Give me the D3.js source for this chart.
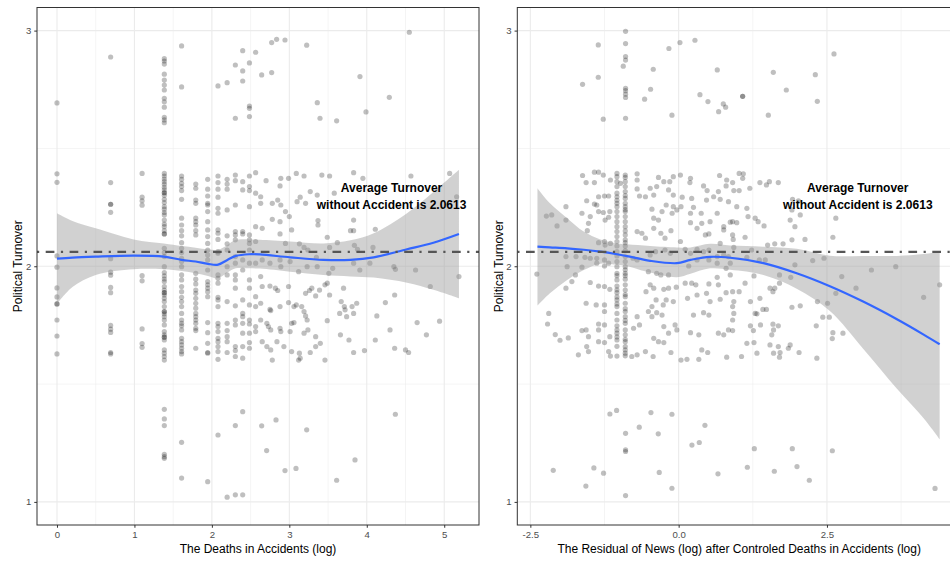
<!DOCTYPE html>
<html>
<head>
<meta charset="utf-8">
<script src="https://cdn.jsdelivr.net/npm/d3@7"></script>
<style>
  body { margin: 0; background: #fff; }
  svg { display: block; }
  text { font-family: "Liberation Sans", Arial, Helvetica, sans-serif; }
</style>
</head>
<body>
<svg id="chart" width="950" height="561"></svg>
<script>
// ---------- data ----------
const avgTurnover = 2.0613;
const yTicks = [1, 2, 3];
const yMinor = [1.5, 2.5];

// Left panel: log deaths. Small death counts sit on discrete columns.
const deathColX = [0, 0.693, 1.099, 1.386, 1.609, 1.792, 1.946, 2.079, 2.197, 2.303, 2.398, 2.485, 2.565];
const deathColY = [
  [2.693, 2.392, 2.356, 2.044, 1.996, 1.908, 1.870, 1.840, 1.840, 1.772, 1.704, 1.628],
  [2.888, 2.355, 2.263, 2.263, 2.229, 2.032, 1.975, 1.962, 1.910, 1.888, 1.749, 1.733, 1.719, 1.634, 1.628],
  [2.394, 2.293, 2.278, 2.259, 1.960, 1.938, 1.734, 1.672, 1.656],
  [2.881, 2.871, 2.858, 2.815, 2.790, 2.769, 2.748, 2.713, 2.698, 2.675, 2.632, 2.621, 2.609,
   2.394, 2.383, 2.370, 2.359, 2.348, 2.335, 2.324, 2.312, 2.312, 2.301, 2.284, 2.270, 2.253, 2.242, 2.228, 2.218,
   2.196, 2.179, 2.168, 2.151, 2.137, 2.137, 2.076, 2.058, 2.041, 1.998, 1.973, 1.959, 1.946, 1.935, 1.914,
   1.899, 1.888, 1.888, 1.878, 1.864, 1.850, 1.829, 1.808, 1.808, 1.798, 1.786, 1.772, 1.751, 1.723, 1.709,
   1.699, 1.699, 1.687, 1.645, 1.631, 1.617, 1.602,
   1.393, 1.352, 1.324, 1.202, 1.192, 1.185],
  [2.935, 2.761, 2.383, 2.369, 2.352, 2.338, 2.321, 2.284, 2.204, 2.175, 2.151, 2.129, 2.100, 2.076, 2.058,
   2.034, 2.020, 1.998, 1.963, 1.942, 1.914, 1.892, 1.868, 1.850, 1.829, 1.800, 1.772, 1.758, 1.747, 1.730,
   1.694, 1.680, 1.666, 1.652, 1.638, 1.628, 1.253, 1.101],
  [2.349, 2.331, 2.281, 2.267, 2.204, 2.189, 2.175, 2.151, 2.133, 1.970, 1.945, 1.925, 1.899, 1.885, 1.864,
   1.843, 1.822, 1.800, 1.786, 1.772, 1.758, 1.737, 1.727, 1.652],
  [2.369, 2.327, 2.298, 2.267, 2.260, 2.232, 2.189, 2.154, 2.126, 2.097, 2.069, 2.048, 2.027, 1.984, 1.935,
   1.921, 1.907, 1.892, 1.871, 1.761, 1.718, 1.673, 1.634, 1.631, 1.086],
  [2.765, 2.383, 2.355, 2.327, 2.293, 2.246, 2.225, 2.154, 2.140, 2.114, 2.062, 2.055, 1.963, 1.949, 1.928,
   1.868, 1.857, 1.829, 1.758, 1.744, 1.723, 1.694, 1.680, 1.659, 1.638, 1.605, 1.284],
  [2.779, 2.369, 2.349, 2.327, 2.239, 2.129, 2.095, 2.069, 1.998, 1.963, 1.850, 1.758, 1.727, 1.701, 1.680,
   1.634, 1.020],
  [2.854, 2.628, 2.387, 2.363, 2.260, 2.147, 2.133, 2.112, 2.041, 2.013, 1.963, 1.942, 1.907, 1.832, 1.772,
   1.751, 1.659, 1.642, 1.617, 1.324, 1.030],
  [2.915, 2.829, 2.786, 2.359, 2.324, 2.147, 2.137, 2.027, 1.984, 1.857, 1.800, 1.786, 1.758, 1.716, 1.659,
   1.610, 1.383, 1.030],
  [2.863, 2.680, 2.670, 2.635, 2.383, 2.338, 2.321, 2.253, 2.133, 2.112, 2.097, 2.069, 2.013, 1.942, 1.907,
   1.836, 1.772, 1.755, 1.716, 1.676, 1.652],
  [2.908, 2.397, 2.310, 2.168, 2.105, 2.013, 1.871, 1.829, 1.744, 1.723]
];

// Larger death counts, spread along the axis
const deathScatter = [
  [2.643, 2.812], [2.772, 2.949], [2.772, 2.822], [2.836, 2.963], [2.944, 2.960], [3.224, 2.938],
  [3.361, 2.694], [3.396, 2.628], [3.611, 2.617], [3.912, 2.805], [3.990, 2.655], [4.291, 2.717], [4.549, 2.993],
  [2.70, 2.363], [2.89, 2.373], [2.88, 2.341], [2.99, 2.373], [3.09, 2.394], [3.19, 2.383], [3.27, 2.317],
  [3.36, 2.302], [3.42, 2.387], [3.52, 2.383], [3.83, 2.397], [3.95, 2.373], [4.57, 2.383], [5.07, 2.394],
  [2.63, 2.295], [2.63, 2.267], [2.78, 2.267], [2.85, 2.281], [2.89, 2.260], [2.95, 2.232], [3.00, 2.211],
  [3.10, 2.274], [3.14, 2.293], [3.21, 2.267], [3.37, 2.194], [3.37, 2.175], [3.58, 2.310], [3.79, 2.151],
  [3.83, 2.151], [3.83, 2.196], [4.11, 2.157], [5.16, 2.295],
  [2.65, 2.161], [2.78, 2.199], [2.88, 2.189], [2.88, 2.137], [2.95, 2.097], [3.03, 2.154], [3.13, 2.095],
  [3.19, 2.080], [3.24, 2.069], [3.35, 2.038], [3.49, 2.123], [3.52, 2.080], [3.62, 2.100], [3.84, 2.089],
  [3.88, 2.072], [4.08, 2.080], [4.35, 1.998], [4.37, 1.987], [4.63, 1.984],
  [2.65, 2.027], [2.75, 2.013], [2.88, 2.027], [2.89, 1.998], [3.01, 2.020], [3.12, 1.977], [3.23, 1.998],
  [3.36, 1.998], [3.51, 1.970], [3.56, 1.991], [3.83, 2.013], [3.91, 1.984], [4.04, 2.013], [5.19, 1.956],
  [2.63, 1.956], [2.65, 1.914], [2.75, 1.916], [2.82, 1.907], [2.85, 1.897], [2.99, 1.914], [3.09, 1.836],
  [3.16, 1.829], [3.21, 1.885], [3.26, 1.897], [3.29, 1.907], [3.34, 1.874], [3.39, 1.899], [3.46, 1.921],
  [3.49, 1.928], [3.52, 1.878], [3.70, 1.907], [3.67, 1.850], [3.71, 1.829], [3.72, 1.815], [3.81, 1.829],
  [3.87, 1.843], [4.24, 1.846], [4.36, 1.878], [4.82, 1.914],
  [2.63, 1.843], [2.75, 1.817], [2.76, 1.812], [2.88, 1.829], [2.99, 1.846], [3.06, 1.829], [3.19, 1.808],
  [3.21, 1.789], [3.23, 1.772], [3.49, 1.769], [3.65, 1.800], [3.74, 1.786], [3.83, 1.800], [4.13, 1.789],
  [4.65, 1.761], [4.94, 1.767],
  [2.63, 1.772], [2.71, 1.758], [2.73, 1.744], [2.76, 1.730], [2.88, 1.737], [2.89, 1.723], [3.01, 1.723],
  [3.03, 1.758], [3.06, 1.761], [3.19, 1.716], [3.24, 1.730], [3.34, 1.701], [3.40, 1.673], [3.66, 1.709],
  [3.77, 1.687], [4.11, 1.687], [4.30, 1.730], [4.77, 1.709],
  [2.65, 1.680], [2.71, 1.659], [2.76, 1.645], [2.84, 1.680], [2.93, 1.659], [3.03, 1.638], [3.13, 1.631],
  [3.14, 1.610], [3.27, 1.634], [3.34, 1.659], [3.46, 1.602], [3.83, 1.634], [3.97, 1.642], [4.36, 1.652],
  [4.50, 1.645], [4.54, 1.634], [2.78, 1.602], [3.12, 1.602],
  [2.643, 1.323], [2.828, 1.348], [2.707, 1.218], [2.944, 1.133], [3.086, 1.142], [3.224, 1.306],
  [3.848, 1.178], [3.611, 1.092], [4.369, 1.372]
];

// Left smoother (loess) with confidence band
const deathFitX    = [0, 0.2, 0.5, 0.99, 1.38, 1.61, 1.79, 1.95, 2.08, 2.2, 2.31, 2.48, 2.62, 3.01, 3.44, 3.79, 4.09, 4.52, 4.86, 5.19];
const deathFitY    = [2.032, 2.037, 2.041, 2.045, 2.041, 2.027, 2.020, 2.010, 2.007, 2.027, 2.044, 2.051, 2.050, 2.038, 2.027, 2.027, 2.038, 2.072, 2.100, 2.137];
const deathFitLow  = [1.840, 1.912, 1.963, 1.987, 1.987, 1.980, 1.970, 1.959, 1.949, 1.973, 1.991, 1.991, 1.990, 1.977, 1.963, 1.957, 1.952, 1.930, 1.900, 1.864];
const deathFitHigh = [2.225, 2.192, 2.161, 2.114, 2.097, 2.086, 2.079, 2.072, 2.069, 2.090, 2.112, 2.114, 2.112, 2.105, 2.097, 2.110, 2.140, 2.225, 2.315, 2.409];

// Right panel: residual of news coverage
const residualPoints = [
  // upper group
  [-0.895, 2.997], [-1.355, 2.939], [-0.895, 2.945], [0.022, 2.949], [0.275, 2.959], [-0.164, 2.924],
  [-0.895, 2.890], [-0.895, 2.875], [-0.934, 2.849], [-0.428, 2.836], [0.651, 2.833], [-1.355, 2.802],
  [-1.620, 2.772], [-0.895, 2.755], [-0.895, 2.745], [-0.895, 2.730], [-0.895, 2.716], [-0.473, 2.751],
  [-0.574, 2.709], [0.359, 2.728], [0.494, 2.699], [-0.113, 2.641], [-1.271, 2.624], [-0.895, 2.628],
  [0.674, 2.656], [1.596, 2.823], [2.304, 2.813], [2.619, 2.901], [1.815, 2.748], [1.079, 2.721],
  [1.079, 2.721], [0.753, 2.689], [0.792, 2.675], [2.338, 2.700], [1.512, 2.641],
  // lower group
  [-1.159, 1.373], [-1.046, 1.388], [-0.467, 1.379], [-0.113, 1.372], [-0.664, 1.317], [-0.895, 1.291],
  [-0.895, 1.221], [-0.895, 1.214], [-0.344, 1.289], [0.224, 1.241], [0.348, 1.252], [0.443, 1.325],
  [-2.114, 1.134], [-1.429, 1.144], [-1.266, 1.122], [-1.564, 1.067], [-0.327, 1.125], [-0.113, 1.058],
  [-0.895, 1.027], [0.663, 1.119], [1.276, 1.226], [1.916, 1.226], [2.591, 1.217], [1.158, 1.147],
  [1.613, 1.130], [1.995, 1.150], [2.203, 1.092], [4.322, 1.057],
  // middle group
  [-1.62, 2.385], [-1.42, 2.399], [-1.35, 2.399], [-1.27, 2.387], [-1.15, 2.366], [-1.04, 2.394], [-1.04, 2.380],
  [-0.90, 2.387], [-0.90, 2.377], [-0.70, 2.392], [-0.70, 2.366], [-0.34, 2.377], [-0.25, 2.359], [-0.15, 2.359],
  [-0.09, 2.380], [0.03, 2.387], [0.20, 2.373], [0.19, 2.355], [0.69, 2.385], [0.81, 2.366],
  [-1.56, 2.355], [-1.42, 2.355], [-1.04, 2.359], [-1.04, 2.338], [-0.98, 2.352], [-0.90, 2.359], [-0.90, 2.338],
  [-0.90, 2.317], [-0.70, 2.328], [-0.66, 2.298], [-0.48, 2.331], [-0.42, 2.302], [-0.37, 2.338], [-0.17, 2.324],
  [-0.09, 2.302], [0.06, 2.293], [0.22, 2.288], [0.42, 2.341], [0.48, 2.321], [0.59, 2.295], [0.67, 2.317],
  [0.80, 2.341], [0.84, 2.274], [-1.25, 2.298], [-1.18, 2.298], [-1.35, 2.295], [-1.55, 2.278], [-1.42, 2.264],
  [-1.38, 2.260], [-1.04, 2.295], [-0.90, 2.288], [-0.56, 2.295], [-0.21, 2.260], [-0.09, 2.253], [0.04, 2.253],
  [0.47, 2.281], [0.70, 2.284],
  [-1.90, 2.253], [-1.63, 2.225], [-1.49, 2.211], [-1.35, 2.232], [-1.27, 2.228], [-1.16, 2.232], [-1.04, 2.267],
  [-1.04, 2.253], [-1.04, 2.232], [-1.04, 2.211], [-1.04, 2.189], [-0.90, 2.267], [-0.90, 2.253], [-0.90, 2.232],
  [-0.90, 2.211], [-0.90, 2.189], [-0.45, 2.242], [-0.42, 2.204], [-0.34, 2.196], [-0.28, 2.232], [-0.11, 2.225],
  [-0.03, 2.239], [0.20, 2.225], [0.25, 2.250], [0.38, 2.225], [0.53, 2.189], [0.65, 2.225], [0.76, 2.154],
  [-1.24, 2.196], [-1.18, 2.208], [-1.52, 2.182], [-2.05, 2.171], [-2.23, 2.213], [-2.14, 2.218], [-1.90, 2.196],
  [-1.04, 2.168], [-0.90, 2.168], [-0.70, 2.147], [-0.62, 2.140], [-0.56, 2.119], [-0.42, 2.161], [-0.30, 2.140],
  [-0.23, 2.119], [-0.13, 2.151], [0.20, 2.185], [0.31, 2.161], [0.39, 2.182], [0.45, 2.133], [0.51, 2.137],
  [0.70, 2.097], [0.76, 2.168], [0.87, 2.187],
  [-1.54, 2.151], [-1.35, 2.100], [-1.25, 2.105], [-1.24, 2.090], [-1.15, 2.097], [-1.04, 2.147], [-1.04, 2.126],
  [-1.04, 2.105], [-1.04, 2.086], [-0.90, 2.133], [-0.90, 2.112], [-0.90, 2.086], [-0.90, 2.066], [-1.04, 2.062],
  [-1.90, 2.041], [-1.73, 2.041], [-1.58, 2.038], [-1.49, 2.034], [-1.38, 2.034], [-1.25, 2.027], [-1.04, 2.044],
  [-1.04, 2.020], [-0.90, 2.041], [-0.90, 2.020], [-0.77, 2.034], [-0.48, 2.048], [-0.39, 2.062], [-0.23, 2.069],
  [-0.14, 2.055], [0.03, 2.105], [0.11, 2.072], [0.20, 2.055], [0.31, 2.072], [0.42, 2.062], [0.51, 2.069],
  [0.65, 2.041], [0.76, 2.048], [0.84, 2.041], [-1.88, 1.998], [-1.63, 1.996], [-1.38, 2.013], [-1.25, 2.001],
  [-1.18, 2.013], [-1.04, 1.998], [-0.90, 1.998], [-0.70, 2.027], [0.17, 2.001], [0.31, 2.027], [0.51, 2.027],
  [0.65, 2.013], [0.80, 1.991], [0.87, 2.013], [-2.39, 1.967], [-1.74, 1.963], [-1.80, 1.935], [-1.90, 1.907],
  [-1.49, 1.931], [-1.35, 1.916], [-1.25, 1.914], [-1.16, 1.902], [-1.04, 1.970], [-1.04, 1.942], [-1.04, 1.916],
  [-1.04, 1.888], [-1.04, 1.857], [-0.90, 1.970], [-0.90, 1.945], [-0.90, 1.921], [-0.90, 1.899], [-0.90, 1.871],
  [-0.90, 1.843], [-0.51, 1.977], [-0.48, 1.921], [-0.42, 1.907], [-0.37, 1.970], [-0.30, 1.963], [-0.17, 1.963],
  [-0.25, 1.902], [-0.17, 1.907], [-0.04, 1.911], [0.11, 1.928], [0.22, 1.928], [0.29, 1.921], [0.51, 1.925],
  [0.65, 1.953], [0.67, 1.921], [0.87, 1.963], [-1.56, 1.843], [-1.39, 1.836], [-1.25, 1.836], [-1.04, 1.829],
  [-0.55, 1.892], [-0.45, 1.829], [-0.38, 1.857], [-0.26, 1.836], [-0.21, 1.857], [-0.09, 1.850], [0.15, 1.864],
  [0.31, 1.878], [0.47, 1.885], [0.53, 1.850], [0.70, 1.860], [0.80, 1.888], [-2.19, 1.800], [-2.21, 1.755],
  [-2.08, 1.710],
  [-2.00, 1.686], [-1.86, 1.696], [-1.63, 1.727], [-1.56, 1.730], [-1.52, 1.701], [-1.35, 1.755], [-1.35, 1.730],
  [-1.25, 1.751], [-1.25, 1.808], [-1.04, 1.800], [-1.04, 1.772], [-1.04, 1.747], [-1.04, 1.716], [-1.04, 1.687],
  [-0.90, 1.808], [-0.90, 1.786], [-0.90, 1.758], [-0.90, 1.730], [-0.90, 1.709], [-0.90, 1.680], [-0.90, 1.659],
  [-0.90, 1.631], [-0.76, 1.737], [-0.70, 1.786], [-0.66, 1.751], [-0.51, 1.808], [-0.45, 1.786], [-0.37, 1.803],
  [-0.28, 1.793], [-0.25, 1.744], [-0.06, 1.751], [-0.03, 1.730], [-0.17, 1.716], [-0.34, 1.680], [-0.42, 1.694],
  [-0.25, 1.676], [0.20, 1.718], [0.25, 1.793], [0.34, 1.709], [0.42, 1.803], [0.51, 1.793], [0.67, 1.716],
  [0.76, 1.709], [0.84, 1.730], [-1.55, 1.659], [-1.52, 1.638], [-1.69, 1.624], [-1.35, 1.680], [-1.25, 1.676],
  [-1.18, 1.638], [-1.15, 1.619], [-1.04, 1.619], [-0.79, 1.617], [-0.70, 1.624], [-0.56, 1.638], [-0.43, 1.617],
  [-0.13, 1.634], [0.04, 1.602], [0.14, 1.605], [0.34, 1.605], [0.39, 1.645], [0.49, 1.634], [0.81, 1.614],
  [-1.16, 1.701],
  // extra density along the two crowded columns
  [-0.90, 2.300], [-0.90, 2.240], [-0.90, 2.150], [-0.90, 1.985], [-0.90, 1.820], [-0.90, 1.770], [-0.90, 1.690],
  [-0.90, 1.645], [-0.90, 1.620], [-0.90, 2.100], [-0.90, 1.880], [-0.90, 1.960],
  [-1.04, 2.310], [-1.04, 2.280], [-1.04, 1.960], [-1.04, 1.900], [-1.04, 1.870], [-1.04, 1.840], [-1.04, 1.730],
  [-1.04, 1.700], [-1.04, 1.660],
  // right side of the middle group
  [0.91, 2.355], [1.02, 2.394], [1.08, 2.373], [1.09, 2.392], [0.93, 2.321], [1.02, 2.321], [1.20, 2.331],
  [1.37, 2.355], [1.48, 2.345], [1.53, 2.359], [1.68, 2.355], [0.98, 2.253], [1.15, 2.246], [1.29, 2.204],
  [1.34, 2.189], [1.44, 2.171], [1.17, 2.211], [0.91, 2.189], [0.98, 2.185], [0.91, 2.133], [1.12, 2.123],
  [0.92, 2.114], [0.93, 2.080], [1.23, 2.069], [1.15, 2.038], [1.36, 2.027], [1.46, 2.027], [1.50, 2.090],
  [1.62, 2.095], [1.76, 2.095], [1.91, 2.112], [2.13, 2.114], [1.88, 2.196], [1.92, 2.284], [2.02, 2.278],
  [1.91, 2.239], [2.05, 2.218], [1.96, 2.168], [2.26, 2.024], [2.45, 2.034], [2.60, 2.123], [2.65, 2.204],
  [1.27, 1.959], [1.12, 1.928], [0.91, 1.892], [1.02, 1.892], [0.93, 1.850], [0.91, 1.829], [0.93, 1.800],
  [0.91, 1.772], [1.21, 1.850], [1.37, 1.864], [1.42, 1.817], [1.48, 1.817], [1.29, 1.800], [1.32, 1.798],
  [1.54, 1.907], [1.62, 1.907], [1.70, 1.928], [1.59, 1.892], [1.70, 1.963], [1.89, 1.953], [1.96, 2.006],
  [2.05, 1.832], [1.91, 1.826], [2.34, 1.850], [2.51, 1.843], [2.65, 1.885], [2.75, 1.956], [2.99, 1.907],
  [3.25, 1.984], [3.66, 1.998], [4.40, 1.921], [4.13, 1.868], [1.21, 1.747], [1.26, 1.727], [1.38, 1.751],
  [1.59, 1.754], [1.68, 1.747], [1.60, 1.730], [1.57, 1.709], [2.43, 1.784], [2.54, 1.784], [2.32, 1.747],
  [2.60, 1.718], [2.77, 1.716], [2.59, 1.693], [0.91, 1.727], [1.15, 1.673], [1.27, 1.676], [1.54, 1.666],
  [1.68, 1.659], [1.88, 1.666], [1.85, 1.652], [1.71, 1.634], [1.60, 1.631], [1.32, 1.631], [1.06, 1.617],
  [2.03, 1.634], [2.33, 1.610], [1.70, 1.614]
];

// Right smoother (loess) with confidence band
const residFitX    = [-2.38, -2.17, -1.88, -1.6, -1.32, -1.04, -0.87, -0.48, -0.03, 0.2, 0.53, 0.87, 1.43, 1.99, 2.55, 3.11, 3.68, 4.13, 4.40];
const residFitY    = [2.083, 2.080, 2.076, 2.070, 2.062, 2.051, 2.043, 2.023, 2.013, 2.027, 2.040, 2.036, 2.013, 1.970, 1.915, 1.850, 1.775, 1.710, 1.669];
const residFitLow  = [1.833, 1.885, 1.942, 1.984, 2.011, 2.006, 2.000, 1.973, 1.953, 1.968, 1.991, 1.985, 1.963, 1.905, 1.810, 1.650, 1.480, 1.355, 1.266];
const residFitHigh = [2.331, 2.267, 2.204, 2.147, 2.114, 2.097, 2.093, 2.086, 2.080, 2.080, 2.095, 2.088, 2.083, 2.074, 2.045, 2.044, 2.044, 2.052, 2.062];

const leftXTicks = [0, 1, 2, 3, 4, 5];
const leftXMinor = [0.5, 1.5, 2.5, 3.5, 4.5];
const rightXTicks = [-2.5, 0, 2.5];
const rightXMinor = [-1.25, 1.25, 3.75];

// ---------- drawing ----------
const svg = d3.select("#chart");
svg.append("rect").attr("width", 950).attr("height", 561).attr("fill", "#fff");
const defs = svg.append("defs");

const panelTop = 7.5, panelBottom = 525;
const yScale = d3.scaleLinear().domain([0.902, 3.098]).range([panelBottom, panelTop]);

function zipFit(xs, ys, lo, hi) {
  return xs.map((x, i) => ({ x, y: ys[i], lo: lo[i], hi: hi[i] }));
}

function drawPanel(cfg) {
  const x = cfg.x;
  const [x0, x1] = x.range();
  const g = svg.append("g");

  defs.append("clipPath").attr("id", cfg.id)
    .append("rect").attr("x", x0).attr("y", panelTop)
    .attr("width", x1 - x0).attr("height", panelBottom - panelTop);

  const body = g.append("g").attr("clip-path", `url(#${cfg.id})`);

  // grid
  const grid = body.append("g");
  grid.selectAll(".vmin").data(cfg.xMinor).join("line")
    .attr("x1", d => x(d)).attr("x2", d => x(d)).attr("y1", panelTop).attr("y2", panelBottom)
    .attr("stroke", "#ebebeb").attr("stroke-width", 0.55);
  grid.selectAll(".hmin").data(yMinor).join("line")
    .attr("x1", x0).attr("x2", x1).attr("y1", d => yScale(d)).attr("y2", d => yScale(d))
    .attr("stroke", "#ebebeb").attr("stroke-width", 0.55);
  grid.selectAll(".vmaj").data(cfg.xTicks).join("line")
    .attr("x1", d => x(d)).attr("x2", d => x(d)).attr("y1", panelTop).attr("y2", panelBottom)
    .attr("stroke", "#ebebeb").attr("stroke-width", 1.1);
  grid.selectAll(".hmaj").data(yTicks).join("line")
    .attr("x1", x0).attr("x2", x1).attr("y1", d => yScale(d)).attr("y2", d => yScale(d))
    .attr("stroke", "#ebebeb").attr("stroke-width", 1.1);

  // points
  body.append("g").selectAll("circle").data(cfg.points).join("circle")
    .attr("cx", d => x(d[0])).attr("cy", d => yScale(d[1])).attr("r", 2.6)
    .attr("fill", "#000").attr("fill-opacity", 0.25);

  // confidence band + smoother
  const area = d3.area().x(d => x(d.x)).y0(d => yScale(d.lo)).y1(d => yScale(d.hi))
    .curve(d3.curveCatmullRom);
  body.append("path").datum(cfg.fit).attr("d", area)
    .attr("fill", "#999").attr("fill-opacity", 0.45);
  const line = d3.line().x(d => x(d.x)).y(d => yScale(d.y)).curve(d3.curveCatmullRom);
  body.append("path").datum(cfg.fit).attr("d", line)
    .attr("fill", "none").attr("stroke", "#3366FF").attr("stroke-width", 2.2);

  // reference line for the no-accident average
  body.append("line")
    .attr("x1", x0).attr("x2", x1)
    .attr("y1", yScale(avgTurnover)).attr("y2", yScale(avgTurnover))
    .attr("stroke", "#555").attr("stroke-width", 2.3)
    .attr("stroke-dasharray", "2.2,6.5,8.7,6.5");

  // annotation
  const ax = x(cfg.noteX), ay = yScale(cfg.noteY);
  const note = g.append("text").attr("text-anchor", "middle")
    .attr("font-size", 12).attr("font-weight", "bold").attr("fill", "#000");
  note.append("tspan").attr("x", ax).attr("y", ay - 4).text("Average Turnover");
  note.append("tspan").attr("x", ax).attr("y", ay + 13.4)
    .text("without Accident is " + avgTurnover.toFixed(4));

  // panel border
  g.append("rect").attr("x", x0).attr("y", panelTop)
    .attr("width", x1 - x0).attr("height", panelBottom - panelTop)
    .attr("fill", "none").attr("stroke", "#333").attr("stroke-width", 1);

  // axes
  const xAxis = g.append("g").attr("transform", `translate(0,${panelBottom})`)
    .call(d3.axisBottom(x).tickValues(cfg.xTicks).tickFormat(cfg.fmt).tickSize(2.75).tickPadding(3.6));
  const yAxis = g.append("g").attr("transform", `translate(${x0},0)`)
    .call(d3.axisLeft(yScale).tickValues(yTicks).tickFormat(d3.format("d")).tickSize(2.75).tickPadding(3));
  [xAxis, yAxis].forEach(a => {
    a.select(".domain").remove();
    a.selectAll(".tick line").attr("stroke", "#333");
    a.selectAll(".tick text").attr("fill", "#4d4d4d").attr("font-size", 9.6)
      .attr("font-family", "Liberation Sans, Arial, sans-serif");
  });

  // axis titles
  g.append("text").attr("x", (x0 + x1) / 2).attr("y", 552.5).attr("text-anchor", "middle")
    .attr("font-size", 12).attr("fill", "#000").text(cfg.xTitle);
  g.append("text").attr("transform", `translate(${cfg.yTitleX},${(panelTop + panelBottom) / 2}) rotate(-90)`)
    .attr("text-anchor", "middle").attr("font-size", 12).attr("fill", "#000").text("Political Turnover");
}

// left panel
const leftPoints = [];
deathColX.forEach((cx, i) => deathColY[i].forEach(v => leftPoints.push([cx, v])));
deathScatter.forEach(p => leftPoints.push(p));

drawPanel({
  id: "clip-left",
  x: d3.scaleLinear().domain([-0.258, 5.449]).range([37, 479]),
  xTicks: leftXTicks, xMinor: leftXMinor, fmt: d3.format("d"),
  points: leftPoints,
  fit: zipFit(deathFitX, deathFitY, deathFitLow, deathFitHigh),
  noteX: 4.32, noteY: 2.30,
  xTitle: "The Deaths in Accidents (log)",
  yTitleX: 21.5
});

// right panel
drawPanel({
  id: "clip-right",
  x: d3.scaleLinear().domain([-2.72, 4.76]).range([517.3, 961]),
  xTicks: rightXTicks, xMinor: rightXMinor, fmt: d => d.toFixed(1),
  points: residualPoints,
  fit: zipFit(residFitX, residFitY, residFitLow, residFitHigh),
  noteX: 3.02, noteY: 2.30,
  xTitle: "The Residual of News (log) after Controled Deaths in Accidents (log)",
  yTitleX: 502.5
});
</script>
</body>
</html>
